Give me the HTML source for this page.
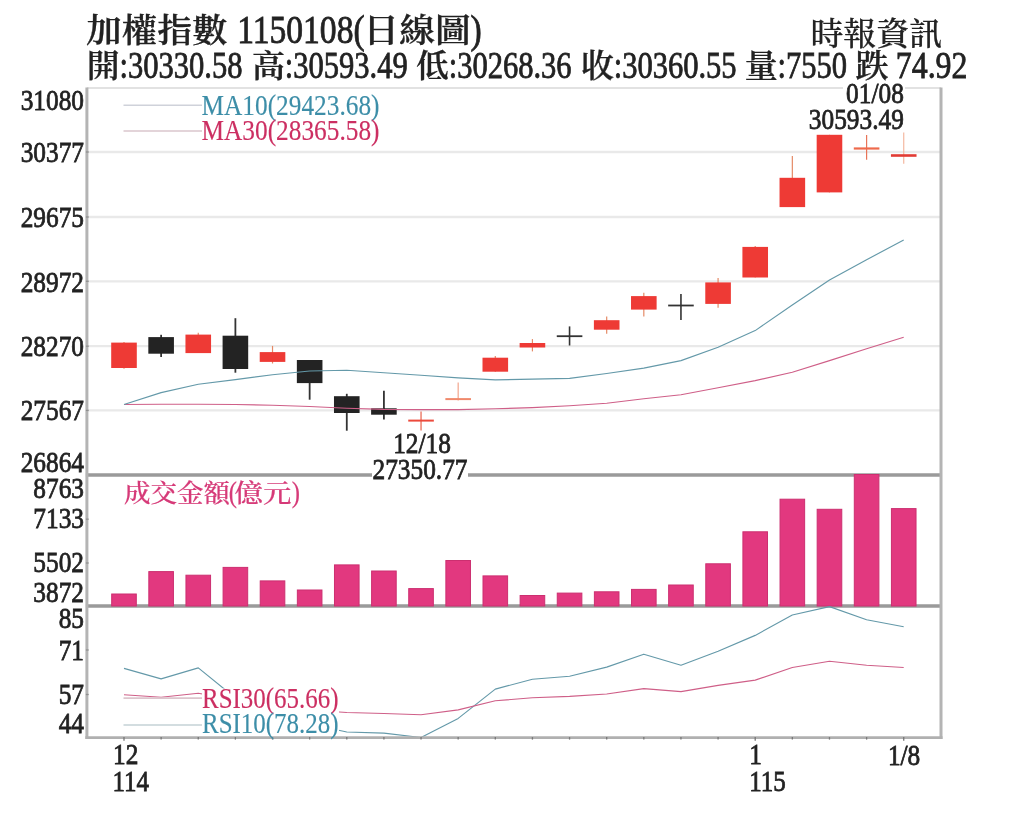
<!DOCTYPE html>
<html lang="zh-Hant">
<head>
<meta charset="utf-8">
<title>加權指數 日線圖</title>
<style>
html,body{margin:0;padding:0;background:#fff;}
body{width:1024px;height:820px;overflow:hidden;}
svg{display:block;will-change:transform;filter:blur(0.55px);}
svg text{font-family:'Liberation Serif', 'Noto Serif CJK SC', serif;white-space:pre;}
</style>
</head>
<body>
<svg width="1024" height="820" viewBox="0 0 1024 820">
<rect x="0" y="0" width="1024" height="820" fill="#ffffff"/>
<line x1="86.90" y1="152.00" x2="941.00" y2="152.00" stroke="#e9e9e9" stroke-width="2.3"/>
<line x1="86.90" y1="217.00" x2="941.00" y2="217.00" stroke="#e9e9e9" stroke-width="2.3"/>
<line x1="86.90" y1="281.30" x2="941.00" y2="281.30" stroke="#e9e9e9" stroke-width="2.3"/>
<line x1="86.90" y1="346.20" x2="941.00" y2="346.20" stroke="#e9e9e9" stroke-width="2.3"/>
<line x1="86.90" y1="410.40" x2="941.00" y2="410.40" stroke="#e9e9e9" stroke-width="2.3"/>
<line x1="86.90" y1="88.00" x2="941.00" y2="88.00" stroke="#d8d8d8" stroke-width="1.6"/>
<line x1="124.00" y1="342.00" x2="124.00" y2="368.80" stroke="#e58a66" stroke-width="1.2"/>
<rect x="111.20" y="342.60" width="25.60" height="25.40" fill="#ee3a35"/>
<line x1="161.13" y1="334.80" x2="161.13" y2="357.00" stroke="#333" stroke-width="1.8"/>
<rect x="148.33" y="337.10" width="25.60" height="16.60" fill="#232323"/>
<line x1="198.26" y1="332.80" x2="198.26" y2="353.10" stroke="#e58a66" stroke-width="1.2"/>
<rect x="185.46" y="334.60" width="25.60" height="18.50" fill="#ee3a35"/>
<line x1="235.39" y1="318.20" x2="235.39" y2="372.70" stroke="#333" stroke-width="1.8"/>
<rect x="222.59" y="335.70" width="25.60" height="33.30" fill="#232323"/>
<line x1="272.52" y1="345.90" x2="272.52" y2="363.50" stroke="#e58a66" stroke-width="1.2"/>
<rect x="259.72" y="352.10" width="25.60" height="9.80" fill="#ee3a35"/>
<line x1="309.65" y1="360.00" x2="309.65" y2="399.70" stroke="#333" stroke-width="1.8"/>
<rect x="296.85" y="360.00" width="25.60" height="23.10" fill="#232323"/>
<line x1="346.78" y1="393.80" x2="346.78" y2="430.70" stroke="#333" stroke-width="1.8"/>
<rect x="333.98" y="396.20" width="25.60" height="16.80" fill="#232323"/>
<line x1="383.91" y1="390.70" x2="383.91" y2="419.60" stroke="#333" stroke-width="1.8"/>
<rect x="371.11" y="408.30" width="25.60" height="6.40" fill="#232323"/>
<line x1="421.04" y1="411.40" x2="421.04" y2="430.40" stroke="#e8604a" stroke-width="1.2"/>
<line x1="408.24" y1="420.60" x2="433.84" y2="420.60" stroke="#ec4a3c" stroke-width="2.0"/>
<line x1="458.17" y1="382.50" x2="458.17" y2="400.50" stroke="#f3a58c" stroke-width="1.2"/>
<line x1="445.37" y1="399.10" x2="470.97" y2="399.10" stroke="#f0896c" stroke-width="2.0"/>
<line x1="495.30" y1="356.00" x2="495.30" y2="371.70" stroke="#e58a66" stroke-width="1.2"/>
<rect x="482.50" y="357.70" width="25.60" height="14.00" fill="#ee3a35"/>
<line x1="532.43" y1="339.10" x2="532.43" y2="351.40" stroke="#e58a66" stroke-width="1.2"/>
<rect x="519.63" y="343.00" width="25.60" height="4.50" fill="#ee3a35"/>
<line x1="569.56" y1="326.40" x2="569.56" y2="345.50" stroke="#333" stroke-width="1.6"/>
<line x1="556.76" y1="336.20" x2="582.36" y2="336.20" stroke="#333" stroke-width="1.8"/>
<line x1="606.69" y1="316.60" x2="606.69" y2="333.80" stroke="#e58a66" stroke-width="1.2"/>
<rect x="593.89" y="320.20" width="25.60" height="9.50" fill="#ee3a35"/>
<line x1="643.82" y1="292.80" x2="643.82" y2="316.40" stroke="#e58a66" stroke-width="1.2"/>
<rect x="631.02" y="296.10" width="25.60" height="13.50" fill="#ee3a35"/>
<line x1="680.95" y1="294.10" x2="680.95" y2="320.10" stroke="#333" stroke-width="1.6"/>
<line x1="668.15" y1="305.50" x2="693.75" y2="305.50" stroke="#333" stroke-width="1.8"/>
<line x1="718.08" y1="278.10" x2="718.08" y2="307.80" stroke="#e58a66" stroke-width="1.2"/>
<rect x="705.28" y="282.40" width="25.60" height="21.50" fill="#ee3a35"/>
<line x1="755.21" y1="246.00" x2="755.21" y2="277.50" stroke="#e58a66" stroke-width="1.2"/>
<rect x="742.41" y="246.90" width="25.60" height="30.60" fill="#ee3a35"/>
<line x1="792.34" y1="155.90" x2="792.34" y2="207.10" stroke="#e58a66" stroke-width="1.2"/>
<rect x="779.54" y="177.80" width="25.60" height="29.30" fill="#ee3a35"/>
<line x1="829.47" y1="134.80" x2="829.47" y2="192.40" stroke="#e58a66" stroke-width="1.2"/>
<rect x="816.67" y="134.80" width="25.60" height="57.60" fill="#ee3a35"/>
<line x1="866.60" y1="135.00" x2="866.60" y2="159.80" stroke="#e87458" stroke-width="1.2"/>
<line x1="853.80" y1="148.50" x2="879.40" y2="148.50" stroke="#ee6a4c" stroke-width="2.2"/>
<line x1="903.73" y1="132.50" x2="903.73" y2="163.70" stroke="#f4b8a0" stroke-width="1.2"/>
<line x1="890.93" y1="155.50" x2="916.53" y2="155.50" stroke="#e23b34" stroke-width="2.6"/>
<polyline points="124.0,404.5 161.1,404.3 198.3,404.2 235.4,404.5 272.5,405.3 309.6,406.5 346.8,408.3 383.9,409.4 421.0,409.6 458.2,409.6 495.3,408.8 532.4,407.6 569.6,405.8 606.7,403.3 643.8,398.8 681.0,394.7 718.1,387.8 755.2,380.6 792.3,372.2 829.5,360.6 866.6,348.8 903.7,337.2" fill="none" stroke="#cf5f88" stroke-width="1.15" stroke-linejoin="round"/>
<polyline points="124.0,404.5 161.1,392.6 198.3,384.2 235.4,379.6 272.5,374.8 309.6,371.0 346.8,370.2 383.9,372.8 421.0,375.3 458.2,377.9 495.3,379.9 532.4,379.1 569.6,378.4 606.7,373.5 643.8,368.1 681.0,360.6 718.1,347.2 755.2,330.6 792.3,305.0 829.5,280.0 866.6,259.7 903.7,240.1" fill="none" stroke="#6499a9" stroke-width="1.15" stroke-linejoin="round"/>
<line x1="85.90" y1="475.00" x2="942.00" y2="475.00" stroke="#9a9a9a" stroke-width="3.4"/>
<line x1="85.90" y1="606.00" x2="942.00" y2="606.00" stroke="#9a9a9a" stroke-width="3.4"/>
<rect x="111.70" y="594.00" width="24.60" height="12.00" fill="#e2387f" stroke="#cc2f70" stroke-width="1"/>
<rect x="148.83" y="571.60" width="24.60" height="34.40" fill="#e2387f" stroke="#cc2f70" stroke-width="1"/>
<rect x="185.96" y="575.20" width="24.60" height="30.80" fill="#e2387f" stroke="#cc2f70" stroke-width="1"/>
<rect x="223.09" y="567.40" width="24.60" height="38.60" fill="#e2387f" stroke="#cc2f70" stroke-width="1"/>
<rect x="260.22" y="580.90" width="24.60" height="25.10" fill="#e2387f" stroke="#cc2f70" stroke-width="1"/>
<rect x="297.35" y="590.00" width="24.60" height="16.00" fill="#e2387f" stroke="#cc2f70" stroke-width="1"/>
<rect x="334.48" y="564.90" width="24.60" height="41.10" fill="#e2387f" stroke="#cc2f70" stroke-width="1"/>
<rect x="371.61" y="571.00" width="24.60" height="35.00" fill="#e2387f" stroke="#cc2f70" stroke-width="1"/>
<rect x="408.74" y="588.60" width="24.60" height="17.40" fill="#e2387f" stroke="#cc2f70" stroke-width="1"/>
<rect x="445.87" y="560.50" width="24.60" height="45.50" fill="#e2387f" stroke="#cc2f70" stroke-width="1"/>
<rect x="483.00" y="575.90" width="24.60" height="30.10" fill="#e2387f" stroke="#cc2f70" stroke-width="1"/>
<rect x="520.13" y="595.50" width="24.60" height="10.50" fill="#e2387f" stroke="#cc2f70" stroke-width="1"/>
<rect x="557.26" y="593.10" width="24.60" height="12.90" fill="#e2387f" stroke="#cc2f70" stroke-width="1"/>
<rect x="594.39" y="591.80" width="24.60" height="14.20" fill="#e2387f" stroke="#cc2f70" stroke-width="1"/>
<rect x="631.52" y="589.40" width="24.60" height="16.60" fill="#e2387f" stroke="#cc2f70" stroke-width="1"/>
<rect x="668.65" y="585.00" width="24.60" height="21.00" fill="#e2387f" stroke="#cc2f70" stroke-width="1"/>
<rect x="705.78" y="563.80" width="24.60" height="42.20" fill="#e2387f" stroke="#cc2f70" stroke-width="1"/>
<rect x="742.91" y="531.80" width="24.60" height="74.20" fill="#e2387f" stroke="#cc2f70" stroke-width="1"/>
<rect x="780.04" y="499.20" width="24.60" height="106.80" fill="#e2387f" stroke="#cc2f70" stroke-width="1"/>
<rect x="817.17" y="509.30" width="24.60" height="96.70" fill="#e2387f" stroke="#cc2f70" stroke-width="1"/>
<rect x="854.30" y="474.50" width="24.60" height="131.50" fill="#e2387f" stroke="#cc2f70" stroke-width="1"/>
<rect x="891.43" y="508.60" width="24.60" height="97.40" fill="#e2387f" stroke="#cc2f70" stroke-width="1"/>
<polyline points="124.0,668.4 161.1,678.9 198.3,667.9 235.4,698.0 272.5,715.0 309.6,724.0 346.8,732.0 383.9,733.1 421.0,737.5 458.2,718.4 495.3,689.1 532.4,679.3 569.6,676.2 606.7,667.1 643.8,654.2 681.0,665.2 718.1,651.3 755.2,635.4 792.3,615.0 829.5,606.6 866.6,619.7 903.7,626.7" fill="none" stroke="#6499a9" stroke-width="1.15" stroke-linejoin="round"/>
<polyline points="124.0,694.7 161.1,697.2 198.3,693.3 235.4,700.0 272.5,706.0 309.6,710.0 346.8,712.5 383.9,713.5 421.0,714.7 458.2,709.9 495.3,700.8 532.4,697.7 569.6,696.4 606.7,694.0 643.8,688.6 681.0,691.6 718.1,685.4 755.2,680.1 792.3,667.5 829.5,661.3 866.6,665.2 903.7,667.5" fill="none" stroke="#cf5f88" stroke-width="1.15" stroke-linejoin="round"/>
<line x1="86.90" y1="87.50" x2="86.90" y2="738.90" stroke="#b4b4b4" stroke-width="3.0"/>
<line x1="941.00" y1="87.50" x2="941.00" y2="738.90" stroke="#b4b4b4" stroke-width="3.0"/>
<line x1="85.40" y1="737.60" x2="942.50" y2="737.60" stroke="#b0b0b0" stroke-width="2.8"/>
<line x1="124.00" y1="737.10" x2="124.00" y2="740.80" stroke="#777" stroke-width="1.3"/>
<line x1="161.13" y1="737.10" x2="161.13" y2="739.60" stroke="#777" stroke-width="1.3"/>
<line x1="198.26" y1="737.10" x2="198.26" y2="739.60" stroke="#777" stroke-width="1.3"/>
<line x1="235.39" y1="737.10" x2="235.39" y2="739.60" stroke="#777" stroke-width="1.3"/>
<line x1="272.52" y1="737.10" x2="272.52" y2="739.60" stroke="#777" stroke-width="1.3"/>
<line x1="309.65" y1="737.10" x2="309.65" y2="739.60" stroke="#777" stroke-width="1.3"/>
<line x1="346.78" y1="737.10" x2="346.78" y2="739.60" stroke="#777" stroke-width="1.3"/>
<line x1="383.91" y1="737.10" x2="383.91" y2="739.60" stroke="#777" stroke-width="1.3"/>
<line x1="421.04" y1="737.10" x2="421.04" y2="739.60" stroke="#777" stroke-width="1.3"/>
<line x1="458.17" y1="737.10" x2="458.17" y2="739.60" stroke="#777" stroke-width="1.3"/>
<line x1="495.30" y1="737.10" x2="495.30" y2="739.60" stroke="#777" stroke-width="1.3"/>
<line x1="532.43" y1="737.10" x2="532.43" y2="739.60" stroke="#777" stroke-width="1.3"/>
<line x1="569.56" y1="737.10" x2="569.56" y2="739.60" stroke="#777" stroke-width="1.3"/>
<line x1="606.69" y1="737.10" x2="606.69" y2="739.60" stroke="#777" stroke-width="1.3"/>
<line x1="643.82" y1="737.10" x2="643.82" y2="739.60" stroke="#777" stroke-width="1.3"/>
<line x1="680.95" y1="737.10" x2="680.95" y2="739.60" stroke="#777" stroke-width="1.3"/>
<line x1="718.08" y1="737.10" x2="718.08" y2="739.60" stroke="#777" stroke-width="1.3"/>
<line x1="755.21" y1="737.10" x2="755.21" y2="740.80" stroke="#777" stroke-width="1.3"/>
<line x1="792.34" y1="737.10" x2="792.34" y2="739.60" stroke="#777" stroke-width="1.3"/>
<line x1="829.47" y1="737.10" x2="829.47" y2="739.60" stroke="#777" stroke-width="1.3"/>
<line x1="866.60" y1="737.10" x2="866.60" y2="739.60" stroke="#777" stroke-width="1.3"/>
<line x1="903.73" y1="737.10" x2="903.73" y2="740.80" stroke="#777" stroke-width="1.3"/>
<line x1="85.90" y1="152.00" x2="88.70" y2="152.00" stroke="#909090" stroke-width="1.3"/>
<line x1="85.90" y1="217.00" x2="88.70" y2="217.00" stroke="#909090" stroke-width="1.3"/>
<line x1="85.90" y1="281.30" x2="88.70" y2="281.30" stroke="#909090" stroke-width="1.3"/>
<line x1="85.90" y1="346.20" x2="88.70" y2="346.20" stroke="#909090" stroke-width="1.3"/>
<line x1="85.90" y1="410.40" x2="88.70" y2="410.40" stroke="#909090" stroke-width="1.3"/>
<line x1="85.90" y1="519.20" x2="88.70" y2="519.20" stroke="#909090" stroke-width="1.3"/>
<line x1="85.90" y1="563.00" x2="88.70" y2="563.00" stroke="#909090" stroke-width="1.3"/>
<line x1="85.90" y1="650.00" x2="88.70" y2="650.00" stroke="#909090" stroke-width="1.3"/>
<line x1="85.90" y1="694.50" x2="88.70" y2="694.50" stroke="#909090" stroke-width="1.3"/>
<line x1="123.50" y1="105.30" x2="202.00" y2="105.30" stroke="#cfd2da" stroke-width="1.6"/>
<line x1="123.50" y1="131.00" x2="202.00" y2="131.00" stroke="#dac6cd" stroke-width="1.6"/>
<text transform="translate(201.50 114.80) scale(0.8650 1)" font-size="29.3" text-anchor="start" fill="#3d8ea8" stroke="#3d8ea8" stroke-width="0.15" font-weight="400">MA10(29423.68)</text>
<text transform="translate(201.50 139.80) scale(0.8650 1)" font-size="29.3" text-anchor="start" fill="#cc2f62" stroke="#cc2f62" stroke-width="0.15" font-weight="400">MA30(28365.58)</text>
<line x1="123.50" y1="698.10" x2="202.00" y2="698.10" stroke="#dcc4cc" stroke-width="1.6"/>
<line x1="123.50" y1="725.00" x2="202.00" y2="725.00" stroke="#c4d2d6" stroke-width="1.6"/>
<rect x="202.00" y="688.50" width="137.00" height="25.50" fill="#fff"/>
<rect x="202.00" y="713.50" width="137.00" height="21.50" fill="#fff"/>
<text transform="translate(202.00 708.30) scale(0.8520 1)" font-size="29.3" text-anchor="start" fill="#cc2f62" stroke="#cc2f62" stroke-width="0.15" font-weight="400">RSI30(65.66)</text>
<text transform="translate(202.00 733.40) scale(0.8520 1)" font-size="29.3" text-anchor="start" fill="#3d8ea8" stroke="#3d8ea8" stroke-width="0.15" font-weight="400">RSI10(78.28)</text>
<text transform="translate(124.00 501.60) scale(1.0400 1)" font-size="25.5" text-anchor="start" fill="#d63a78" stroke="#d63a78" stroke-width="0.2" font-weight="500">成交金額</text>
<text transform="translate(228.80 501.50) scale(0.8650 1)" font-size="28.5" text-anchor="start" fill="#d63a78" stroke="#d63a78" stroke-width="0.2" font-weight="400">(</text>
<text transform="translate(234.50 501.60) scale(1.1200 1)" font-size="25.5" text-anchor="start" fill="#d63a78" stroke="#d63a78" stroke-width="0.2" font-weight="500">億元</text>
<text transform="translate(291.80 501.50) scale(0.8650 1)" font-size="28.5" text-anchor="start" fill="#d63a78" stroke="#d63a78" stroke-width="0.2" font-weight="400">)</text>
<rect x="843.00" y="84.00" width="62.00" height="20.00" fill="#fff"/>
<rect x="807.00" y="108.00" width="98.00" height="22.50" fill="#fff"/>
<text transform="translate(903.80 102.80) scale(0.8650 1)" font-size="29.3" text-anchor="end" fill="#222" stroke="#222" stroke-width="0.8" font-weight="400">01/08</text>
<text transform="translate(903.80 129.30) scale(0.8650 1)" font-size="29.3" text-anchor="end" fill="#222" stroke="#222" stroke-width="0.8" font-weight="400">30593.49</text>
<rect x="393.00" y="434.00" width="58.00" height="20.00" fill="#fff"/>
<rect x="372.00" y="458.00" width="96.00" height="22.00" fill="#fff"/>
<text transform="translate(422.00 452.60) scale(0.8650 1)" font-size="29.3" text-anchor="middle" fill="#222" stroke="#222" stroke-width="0.8" font-weight="400">12/18</text>
<text transform="translate(420.00 478.90) scale(0.8650 1)" font-size="29.3" text-anchor="middle" fill="#222" stroke="#222" stroke-width="0.8" font-weight="400">27350.77</text>
<text transform="translate(84.00 109.80) scale(0.8650 1)" font-size="29.3" text-anchor="end" fill="#222" stroke="#222" stroke-width="0.8" font-weight="400">31080</text>
<text transform="translate(84.00 162.40) scale(0.8650 1)" font-size="29.3" text-anchor="end" fill="#222" stroke="#222" stroke-width="0.8" font-weight="400">30377</text>
<text transform="translate(84.00 227.40) scale(0.8650 1)" font-size="29.3" text-anchor="end" fill="#222" stroke="#222" stroke-width="0.8" font-weight="400">29675</text>
<text transform="translate(84.00 291.70) scale(0.8650 1)" font-size="29.3" text-anchor="end" fill="#222" stroke="#222" stroke-width="0.8" font-weight="400">28972</text>
<text transform="translate(84.00 355.60) scale(0.8650 1)" font-size="29.3" text-anchor="end" fill="#222" stroke="#222" stroke-width="0.8" font-weight="400">28270</text>
<text transform="translate(84.00 420.00) scale(0.8650 1)" font-size="29.3" text-anchor="end" fill="#222" stroke="#222" stroke-width="0.8" font-weight="400">27567</text>
<text transform="translate(84.00 471.60) scale(0.8650 1)" font-size="29.3" text-anchor="end" fill="#222" stroke="#222" stroke-width="0.8" font-weight="400">26864</text>
<text transform="translate(84.00 498.40) scale(0.8650 1)" font-size="29.3" text-anchor="end" fill="#222" stroke="#222" stroke-width="0.8" font-weight="400">8763</text>
<text transform="translate(84.00 528.10) scale(0.8650 1)" font-size="29.3" text-anchor="end" fill="#222" stroke="#222" stroke-width="0.8" font-weight="400">7133</text>
<text transform="translate(84.00 572.30) scale(0.8650 1)" font-size="29.3" text-anchor="end" fill="#222" stroke="#222" stroke-width="0.8" font-weight="400">5502</text>
<text transform="translate(84.00 602.40) scale(0.8650 1)" font-size="29.3" text-anchor="end" fill="#222" stroke="#222" stroke-width="0.8" font-weight="400">3872</text>
<text transform="translate(84.00 628.20) scale(0.8650 1)" font-size="29.3" text-anchor="end" fill="#222" stroke="#222" stroke-width="0.8" font-weight="400">85</text>
<text transform="translate(84.00 659.50) scale(0.8650 1)" font-size="29.3" text-anchor="end" fill="#222" stroke="#222" stroke-width="0.8" font-weight="400">71</text>
<text transform="translate(84.00 703.80) scale(0.8650 1)" font-size="29.3" text-anchor="end" fill="#222" stroke="#222" stroke-width="0.8" font-weight="400">57</text>
<text transform="translate(84.00 733.40) scale(0.8650 1)" font-size="29.3" text-anchor="end" fill="#222" stroke="#222" stroke-width="0.8" font-weight="400">44</text>
<text transform="translate(125.75 764.40) scale(0.8650 1)" font-size="29.3" text-anchor="middle" fill="#222" stroke="#222" stroke-width="0.8" font-weight="400">12</text>
<text transform="translate(112.40 791.20) scale(0.8520 1)" font-size="29.3" text-anchor="start" fill="#222" stroke="#222" stroke-width="0.8" font-weight="400">114</text>
<text transform="translate(755.50 764.40) scale(0.8650 1)" font-size="29.3" text-anchor="middle" fill="#222" stroke="#222" stroke-width="0.8" font-weight="400">1</text>
<text transform="translate(749.20 791.20) scale(0.8520 1)" font-size="29.3" text-anchor="start" fill="#222" stroke="#222" stroke-width="0.8" font-weight="400">115</text>
<text transform="translate(904.10 764.80) scale(0.8650 1)" font-size="29.3" text-anchor="middle" fill="#222" stroke="#222" stroke-width="0.8" font-weight="400">1/8</text>
<text transform="translate(86.30 41.60) scale(1.0550 1)" font-size="33.5" text-anchor="start" fill="#222" stroke="#222" stroke-width="0.3" font-weight="600">加權指數</text>
<text transform="translate(237.20 43.00) scale(0.8500 1)" font-size="39.5" text-anchor="start" fill="#222" stroke="#222" stroke-width="0.8" font-weight="400">1150108(</text>
<text transform="translate(363.30 41.60) scale(1.0700 1)" font-size="33.5" text-anchor="start" fill="#222" stroke="#222" stroke-width="0.3" font-weight="600">日線圖</text>
<text transform="translate(470.50 43.00) scale(0.8500 1)" font-size="39.5" text-anchor="start" fill="#222" stroke="#222" stroke-width="0.8" font-weight="400">)</text>
<text transform="translate(810.40 44.90) scale(1.0300 1)" font-size="32.0" text-anchor="start" fill="#222" stroke="#222" stroke-width="0.25" font-weight="500">時報資訊</text>
<text transform="translate(86.70 76.60) scale(1.0300 1)" font-size="32.0" text-anchor="start" fill="#222" stroke="#222" stroke-width="0.3" font-weight="600">開</text>
<text transform="translate(119.50 77.90) scale(0.7970 1)" font-size="38.3" text-anchor="start" fill="#222" stroke="#222" stroke-width="0.8" font-weight="400">:30330.58</text>
<text transform="translate(252.00 76.60) scale(1.0300 1)" font-size="32.0" text-anchor="start" fill="#222" stroke="#222" stroke-width="0.3" font-weight="600">高</text>
<text transform="translate(284.80 77.90) scale(0.7970 1)" font-size="38.3" text-anchor="start" fill="#222" stroke="#222" stroke-width="0.8" font-weight="400">:30593.49</text>
<text transform="translate(415.90 76.60) scale(1.0300 1)" font-size="32.0" text-anchor="start" fill="#222" stroke="#222" stroke-width="0.3" font-weight="600">低</text>
<text transform="translate(448.70 77.90) scale(0.7970 1)" font-size="38.3" text-anchor="start" fill="#222" stroke="#222" stroke-width="0.8" font-weight="400">:30268.36</text>
<text transform="translate(580.90 76.60) scale(1.0300 1)" font-size="32.0" text-anchor="start" fill="#222" stroke="#222" stroke-width="0.3" font-weight="600">收</text>
<text transform="translate(613.70 77.90) scale(0.7970 1)" font-size="38.3" text-anchor="start" fill="#222" stroke="#222" stroke-width="0.8" font-weight="400">:30360.55</text>
<text transform="translate(744.80 76.60) scale(1.0300 1)" font-size="32.0" text-anchor="start" fill="#222" stroke="#222" stroke-width="0.3" font-weight="600">量</text>
<text transform="translate(777.60 77.90) scale(0.7970 1)" font-size="38.3" text-anchor="start" fill="#222" stroke="#222" stroke-width="0.8" font-weight="400">:7550</text>
<text transform="translate(855.60 76.60) scale(1.0300 1)" font-size="32.0" text-anchor="start" fill="#222" stroke="#222" stroke-width="0.3" font-weight="600">跌</text>
<text transform="translate(895.80 77.90) scale(0.8320 1)" font-size="38.3" text-anchor="start" fill="#222" stroke="#222" stroke-width="0.8" font-weight="400">74.92</text>
</svg>
</body>
</html>
